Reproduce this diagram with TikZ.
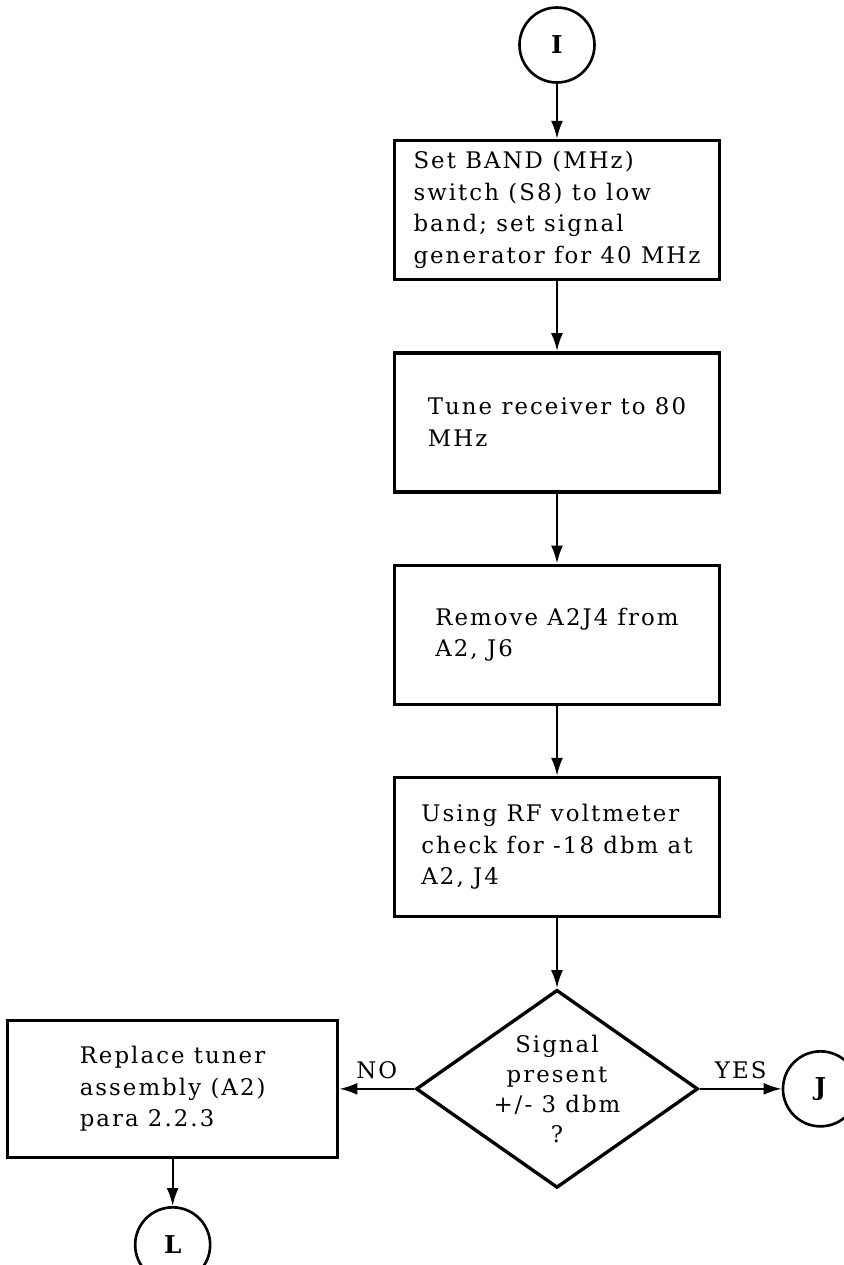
\documentclass[tikz,border=0pt]{standalone}
\usepackage{fontspec}
\setmainfont{DejaVu Serif}[LetterSpace=9]
\usepackage{tikz}
\usetikzlibrary{arrows.meta,positioning,shapes.geometric}

\begin{document}
\begin{tikzpicture}[
  font=\fontsize{13}{18}\selectfont,
  node distance=1.4cm,
  box/.style={rectangle, draw, line width=1.9pt, align=left,
              minimum width=6.5cm, minimum height=2.78cm, inner sep=2pt},
  conn/.style={circle, draw, line width=1.5pt, minimum size=1.5cm,
               inner sep=0pt, font=\fontsize{14}{15}\selectfont\bfseries},
  dec/.style={diamond, draw, line width=1.9pt, align=center, aspect=1.42,
              inner sep=0pt, minimum width=5.64cm, minimum height=3.96cm,
              font=\fontsize{13}{17}\selectfont},
  arr/.style={-{Latex[length=3.6mm,width=2.4mm]}, line width=1.3pt}
]
\useasboundingbox (0,0) rectangle (16.88,-25.3);
\node[conn] (ci) at (11.14,-0.9) {I};
\node[box, below=1.1cm of ci] (setband) {Set BAND (MHz)\\switch (S8) to low\\band; set signal\\generator for 40 MHz};
\node[box, below=of setband] (tune) {Tune receiver to 80\\MHz};
\node[box, below=of tune] (remove) {Remove A2J4 from\\A2, J6};
\node[box, below=of remove] (check) {Using RF voltmeter\\check for -18 dbm at\\A2, J4};
\node[dec, below=of check] (signal) {Signal\\present\\+/- 3 dbm\\?};
\node[box, minimum width=6.6cm, minimum height=2.74cm, left=1.5cm of signal] (replace) {Replace tuner\\assembly (A2)\\para 2.2.3};
\node[conn, right=1.64cm of signal] (cj) {J};
\node[conn, below=0.94cm of replace] (cl) {L};
\draw[arr] (ci) -- (setband);
\draw[arr] (setband) -- (tune);
\draw[arr] (tune) -- (remove);
\draw[arr] (remove) -- (check);
\draw[arr] (check) -- (signal);
\draw[arr] (signal.west) -- node[above=2pt] (no) {NO} (replace.east);
\draw[arr] (signal.east) -- node[above=2pt] (yes) {YES} (cj.west);
\draw[arr] (replace) -- (cl);
\end{tikzpicture}
\end{document}
